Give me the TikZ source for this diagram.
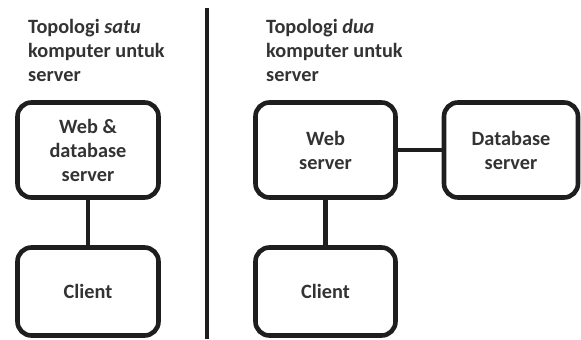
\documentclass[tikz,border=0pt]{standalone}
\usepackage{fontspec}
\setmainfont{Carlito}
\definecolor{txt}{HTML}{333333}
\definecolor{ln}{HTML}{1E1E1E}
\begin{document}
\begin{tikzpicture}[x=1pt,y=-1pt,
  box/.style={draw=ln,line width=4.6pt,rounded corners=14pt,align=center,
    font=\fontsize{20.3}{24}\selectfont\bfseries,text=txt,inner sep=0pt},
  title/.style={anchor=north west,align=left,inner sep=0pt,
    font=\fontsize{20.3}{24}\selectfont\bfseries,text=txt},
  link/.style={draw=ln,line width=4.6pt}]
\useasboundingbox (0,0) rectangle (581,340);
\node[title] (t1) at (28,19) {Topologi \textit{satu}\\komputer untuk\\server};
\node[title] (t2) at (266,19) {Topologi \textit{dua}\\komputer untuk\\server};
\coordinate (d1) at (207,8);
\coordinate (d2) at (207,339);
\draw[ln,line width=4pt] (d1) -- (d2);
\node[box,minimum width=141pt,minimum height=95pt] (wd) at (88,150) {Web \&\\database\\server};
\node[box,minimum width=141pt,minimum height=88pt] (c1) at (88,291.5) {Client};
\node[box,minimum width=140pt,minimum height=95pt] (ws) at (325.5,150) {Web\\server};
\node[box,minimum width=134pt,minimum height=95pt] (db) at (511,150) {Database\\server};
\node[box,minimum width=140pt,minimum height=88pt] (c2) at (325.5,291.5) {Client};
\draw[link] (wd) -- (c1);
\draw[link] (ws) -- (c2);
\draw[link] (ws) -- (db);
\end{tikzpicture}
\end{document}
